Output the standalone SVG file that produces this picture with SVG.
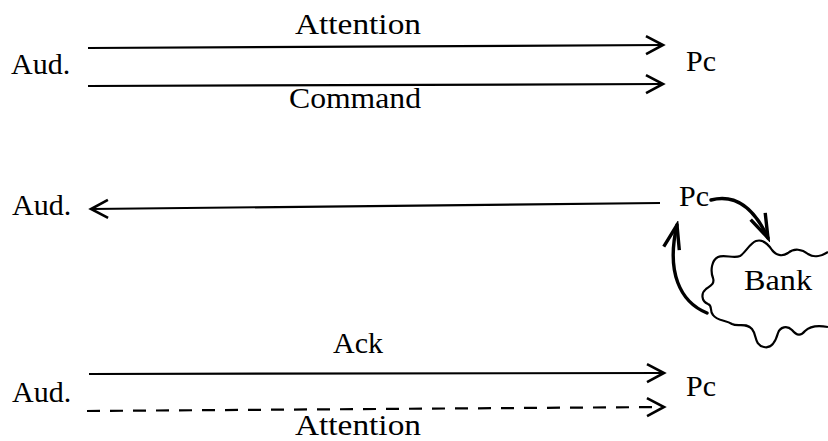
<svg xmlns="http://www.w3.org/2000/svg" width="828" height="441" viewBox="0 0 828 441">
<style>
  text { font-family: "Liberation Serif", "Times New Roman", serif; fill: #000; }
  .node { font-size: 30px; }
  .lbl { font-size: 29px; }
  .ln { stroke: #000; stroke-width: 2.2; fill: none; }
  .dash { stroke-dasharray: 13 10; }
  .thick { stroke: #000; stroke-width: 3.4; fill: none; stroke-linecap: round; }
  .cloud { stroke: #000; stroke-width: 2.2; fill: #fff; stroke-linejoin: round; }
</style>
<defs>
  <marker id="chev" viewBox="-20 -12 24 24" refX="0" refY="0" markerWidth="24" markerHeight="24" markerUnits="userSpaceOnUse" orient="auto">
    <path d="M-17,-9 L0,0 L-17,9" fill="none" stroke="#000" stroke-width="2.6" stroke-dasharray="none" stroke-linejoin="miter"/>
  </marker>
  <marker id="chevB" viewBox="-28 -12 32 24" refX="0" refY="0" markerWidth="32" markerHeight="24" markerUnits="userSpaceOnUse" orient="auto">
    <path d="M-24,-8 L0,0 L-24,8" fill="none" stroke="#000" stroke-width="3.4" stroke-linejoin="miter"/>
  </marker>
</defs>

<g id="aud1"><text class="node" x="11" y="74">Aud.</text></g>
<g id="pc1"><text class="node" x="686" y="71">Pc</text></g>
<g id="aud2"><text class="node" x="12" y="215">Aud.</text></g>
<g id="pc2"><text class="node" x="679" y="206">Pc</text></g>
<g id="bank">
  <path class="cloud" d="M828,252 C822,256 814,258 808,254 C802,249 794,248 788,253 C782,257 776,255 772,250 C768,244 762,239 756,241 C750,243 746,252 740,256 C734,259 724,254 718,257 C712,260 710,270 713,278 C715,284 710,286 706,289 C701,293 701,301 708,304 C713,306 709,310 713,315 C717,321 726,320 732,324 C738,327 746,322 752,329 C757,335 754,345 764,347 C772,349 776,340 778,333 C780,327 787,325 792,330 C797,336 801,336 805,331 C810,326 818,325 828,327"/>
  <text class="node" x="744" y="290" textLength="68" lengthAdjust="spacingAndGlyphs">Bank</text>
</g>
<g id="aud3"><text class="node" x="12" y="402">Aud.</text></g>
<g id="pc3"><text class="node" x="686" y="396">Pc</text></g>

<g id="connectors">
  <path class="ln" d="M88,48 L663,45" marker-end="url(#chev)"/>
  <text class="lbl" x="295" y="34" textLength="126" lengthAdjust="spacingAndGlyphs">Attention</text>
  <path class="ln" d="M88,86 L663,84" marker-end="url(#chev)"/>
  <text class="lbl" x="289" y="108" textLength="132" lengthAdjust="spacingAndGlyphs">Command</text>

  <path class="ln" d="M660,203 L91,209" marker-end="url(#chev)"/>
  <path class="thick" d="M711,200 C738,193 756,212 768,238" marker-end="url(#chevB)"/>
  <path class="thick" d="M707,313 C680,302 666,272 677,225" marker-end="url(#chevB)"/>

  <path class="ln" d="M89,374 L664,373" marker-end="url(#chev)"/>
  <text class="lbl" x="333" y="353" textLength="50" lengthAdjust="spacingAndGlyphs">Ack</text>
  <path class="ln dash" d="M87,411 L664,407" marker-end="url(#chev)"/>
  <text class="lbl" x="295" y="435" textLength="126" lengthAdjust="spacingAndGlyphs">Attention</text>
</g>
</svg>
